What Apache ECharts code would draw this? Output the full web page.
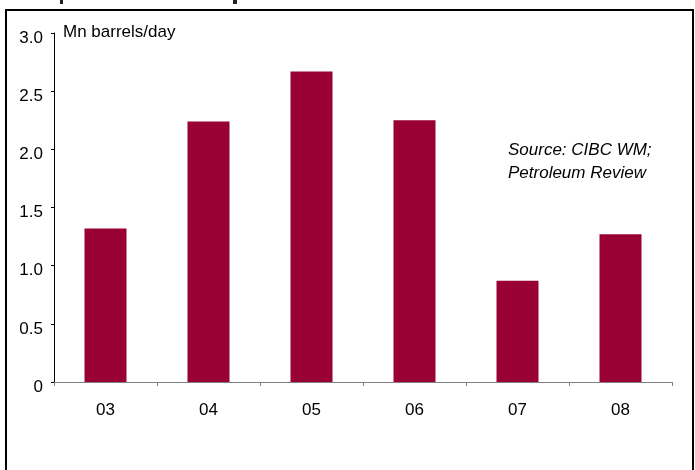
<!DOCTYPE html>
<html>
<head>
<meta charset="utf-8">
<script src="https://cdn.jsdelivr.net/npm/echarts@6/dist/echarts.min.js"></script>
<style>
html,body{margin:0;padding:0;background:#fff;}
#chart{width:695px;height:470px;}
</style>
</head>
<body>
<div id="chart"></div>
<script>
const categories = ['03', '04', '05', '06', '07', '08'];
const values = [1.32, 2.24, 2.67, 2.25, 0.87, 1.27];
const yTicks = ['0', '0.5', '1.0', '1.5', '2.0', '2.5', '3.0'];
const unitLabel = 'Mn barrels/day';
const sourceLines = ['Source: CIBC WM;', 'Petroleum Review'];

const chart = echarts.init(document.getElementById('chart'), null, {renderer: 'canvas'});
const font = '"Liberation Sans", Arial, sans-serif';
chart.setOption({
  animation: false,
  backgroundColor: '#fff',
  grid: {left: 54, right: 23, top: 33, bottom: 88, containLabel: false},
  xAxis: {
    type: 'category',
    data: categories,
    axisLine: {lineStyle: {color: '#808080', width: 1}},
    axisTick: {show: true, length: 4, lineStyle: {color: '#808080'}, alignWithLabel: false},
    axisLabel: {color: '#000', fontFamily: font, fontSize: 17, margin: 20}
  },
  yAxis: {
    type: 'value',
    min: 0, max: 3, interval: 0.5,
    splitLine: {show: false},
    axisLine: {show: true, lineStyle: {color: '#000', width: 1}},
    axisTick: {show: true, length: 3, lineStyle: {color: '#000'}},
    axisLabel: {
      color: '#000', fontFamily: font, fontSize: 17, margin: 11,
      verticalAlign: 'top', lineHeight: 10,
      formatter: function (v) { return yTicks[Math.round(v / 0.5)]; }
    }
  },
  series: [{
    type: 'bar',
    data: values,
    barWidth: 42,
    itemStyle: {color: '#990033'}
  }],
  graphic: [
    {type: 'rect', shape: {x: 6, y: 10, width: 687, height: 480}, style: {fill: 'none', stroke: '#000', lineWidth: 2}},
    {type: 'rect', shape: {x: 60, y: 0, width: 3, height: 4}, style: {fill: '#222'}},
    {type: 'rect', shape: {x: 233, y: 0, width: 4, height: 4}, style: {fill: '#222'}},
    {type: 'text', left: 63, top: 24, style: {text: unitLabel, fill: '#000', font: '17px ' + font, letterSpacing: 0.4}},
    {type: 'text', left: 508, top: 139, style: {text: sourceLines.join('\n'), fill: '#000', font: 'italic 17px ' + font, lineHeight: 23, letterSpacing: 0.3}}
  ]
});
</script>
</body>
</html>
